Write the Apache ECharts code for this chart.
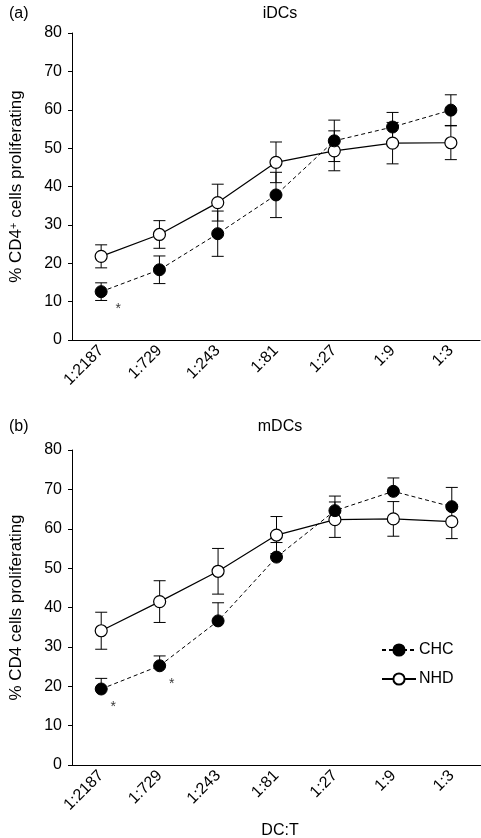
<!DOCTYPE html>
<html>
<head>
<meta charset="utf-8">
<script src="https://cdn.jsdelivr.net/npm/echarts@6/dist/echarts.min.js"></script>
<style>
html,body{margin:0;padding:0;background:#fff;}
#chart{width:481px;height:838px;}
</style>
</head>
<body>
<div id="chart"></div>
<script>
// ---- data ----
var categories = ['1:2187', '1:729', '1:243', '1:81', '1:27', '1:9', '1:3'];
var yTicks = [0, 10, 20, 30, 40, 50, 60, 70, 80];

// (a) iDCs
var iCHC      = [12.6, 18.3, 27.7, 37.8, 51.9, 55.5, 59.9];
var iCHCerrUp = [2.3, 3.6, 5.9, 5.9, 5.4, 3.8, 4.0];
var iCHCerrDn = [2.3, 3.6, 5.9, 5.9, 5.4, 3.8, 4.0];
var iNHD      = [21.8, 27.5, 35.8, 46.3, 49.3, 51.3, 51.4];
var iNHDerrUp = [3.0, 3.6, 4.8, 5.3, 5.2, 5.4, 4.4];
var iNHDerrDn = [3.0, 3.6, 4.8, 5.3, 5.2, 5.4, 4.4];
var iSig      = [0];            // category indices marked with *

// (b) mDCs
var mCHC      = [19.3, 25.2, 36.6, 52.8, 64.6, 69.5, 65.6];
var mCHCerrUp = [2.7, 2.5, 4.6, 3.7, 3.7, 3.4, 4.9];
var mCHCerrDn = [0, 0, 0, 0, 0, 0, 0];
var mNHD      = [34.1, 41.5, 49.2, 58.4, 62.3, 62.5, 61.8];
var mNHDerrUp = [4.7, 5.3, 5.8, 4.7, 4.5, 4.4, 4.3];
var mNHDerrDn = [4.7, 5.3, 5.8, 4.7, 4.5, 4.4, 4.3];
var mSig      = [0, 1];

var FONT = '"Liberation Sans", Arial, Helvetica, sans-serif';

function errData(vals, up, dn) {
  return vals.map(function (v, i) { return [i, v - dn[i], v + up[i]]; });
}
function sigData(vals, idx) {
  return idx.map(function (i) { return [i, vals[i]]; });
}
function errSeries(data, gi) {
  return {
    type: 'custom', xAxisIndex: gi, yAxisIndex: gi, z: 1, silent: true,
    data: data, encode: { x: 0, y: [1, 2] },
    renderItem: function (params, api) {
      var x = api.value(0);
      var lo = api.coord([x, api.value(1)]);
      var hi = api.coord([x, api.value(2)]);
      var hw = 6;
      var st = { stroke: '#000', lineWidth: 1 };
      var ch = [
        { type: 'line', shape: { x1: lo[0], y1: lo[1], x2: hi[0], y2: hi[1] }, style: st },
        { type: 'line', shape: { x1: hi[0] - hw, y1: hi[1], x2: hi[0] + hw, y2: hi[1] }, style: st },
        { type: 'line', shape: { x1: lo[0] - hw, y1: lo[1], x2: lo[0] + hw, y2: lo[1] }, style: st }
      ];
      return { type: 'group', children: ch };
    }
  };
}
function chcSeries(vals, gi) {
  return {
    name: 'CHC', type: 'line', xAxisIndex: gi, yAxisIndex: gi, z: 3,
    data: vals, symbol: 'circle', symbolSize: 12,
    lineStyle: { color: '#000', width: 1, type: [4, 3] },
    itemStyle: { color: '#000', borderColor: '#000', borderWidth: 1 },
    emphasis: { disabled: true }
  };
}
function nhdSeries(vals, gi) {
  return {
    name: 'NHD', type: 'line', xAxisIndex: gi, yAxisIndex: gi, z: 2,
    data: vals, symbol: 'circle', symbolSize: 12,
    lineStyle: { color: '#000', width: 1.2, type: 'solid' },
    itemStyle: { color: '#fff', borderColor: '#000', borderWidth: 1.2 },
    emphasis: { disabled: true }
  };
}
function sigSeries(data, gi, offset) {
  return {
    type: 'scatter', xAxisIndex: gi, yAxisIndex: gi, z: 4, silent: true,
    data: data, symbolSize: 0,
    label: { show: true, formatter: '*', color: '#000', fontSize: 14, fontFamily: FONT, offset: offset }
  };
}
function xAxis(gi) {
  return {
    type: 'category', gridIndex: gi, data: categories, boundaryGap: true,
    axisLine: { lineStyle: { color: '#000', width: 1 } },
    axisTick: { alignWithLabel: true, inside: true, length: 4, lineStyle: { color: '#000' } },
    axisLabel: { rotate: 45, color: '#000', fontSize: 16, fontFamily: FONT, margin: 8 },
    splitLine: { show: false }
  };
}
function yAxis(gi, name) {
  return {
    type: 'value', gridIndex: gi, min: yTicks[0], max: yTicks[yTicks.length - 1], interval: 10,
    name: name, nameLocation: 'middle', nameGap: 47,
    nameTextStyle: {
      color: '#000', fontFamily: FONT, fontSize: 17,
      rich: {
        a: { fontSize: 17, fontFamily: FONT, color: '#000' },
        s: { fontSize: 11, fontFamily: FONT, color: '#000', verticalAlign: 'top', padding: [0, 0, 6, 0] }
      }
    },
    axisLine: { show: true, lineStyle: { color: '#000', width: 1 } },
    axisTick: { show: true, inside: false, length: 4, lineStyle: { color: '#000' } },
    axisLabel: { color: '#000', fontSize: 16, fontFamily: FONT, margin: 10 },
    splitLine: { show: false }
  };
}

var chart = echarts.init(document.getElementById('chart'), null, { renderer: 'canvas' });
chart.setOption({
  animation: false,
  backgroundColor: '#fff',
  title: [
    { text: '(a)', left: 4, top: 1, textStyle: { fontSize: 16, fontWeight: 'normal', color: '#000', fontFamily: FONT } },
    { text: 'iDCs', left: 275, top: 1, textAlign: 'center', textStyle: { fontSize: 16, fontWeight: 'normal', color: '#000', fontFamily: FONT } },
    { text: '(b)', left: 4, top: 414, textStyle: { fontSize: 16, fontWeight: 'normal', color: '#000', fontFamily: FONT } },
    { text: 'mDCs', left: 275, top: 414, textAlign: 'center', textStyle: { fontSize: 16, fontWeight: 'normal', color: '#000', fontFamily: FONT } },
    { text: 'DC:T', left: 275, top: 818, textAlign: 'center', textStyle: { fontSize: 16, fontWeight: 'normal', color: '#000', fontFamily: FONT } }
  ],
  legend: {
    data: ['CHC', 'NHD'], orient: 'vertical', left: 376, top: 637,
    itemWidth: 34, itemHeight: 14, itemGap: 13,
    textStyle: { fontSize: 16, color: '#000', fontFamily: FONT, padding: [0, 0, 0, -2] },
    selectedMode: false
  },
  grid: [
    { left: 70, top: 33, width: 410, height: 307 },
    { left: 69, top: 450, width: 412, height: 315 }
  ],
  xAxis: [xAxis(0), xAxis(1)],
  yAxis: [
    yAxis(0, '{a|% CD4}{s|+}{a| cells proliferating}'),
    yAxis(1, '{a|% CD4 cells proliferating}')
  ],
  series: [
    errSeries(errData(iNHD, iNHDerrUp, iNHDerrDn), 0),
    errSeries(errData(iCHC, iCHCerrUp, iCHCerrDn), 0),
    nhdSeries(iNHD, 0),
    chcSeries(iCHC, 0),
    sigSeries(sigData(iCHC, iSig), 0, [17, 17]),
    errSeries(errData(mNHD, mNHDerrUp, mNHDerrDn), 1),
    errSeries(errData(mCHC, mCHCerrUp, mCHCerrDn), 1),
    nhdSeries(mNHD, 1),
    chcSeries(mCHC, 1),
    sigSeries(sigData(mCHC, mSig), 1, [12, 18])
  ]
});
</script>
</body>
</html>
